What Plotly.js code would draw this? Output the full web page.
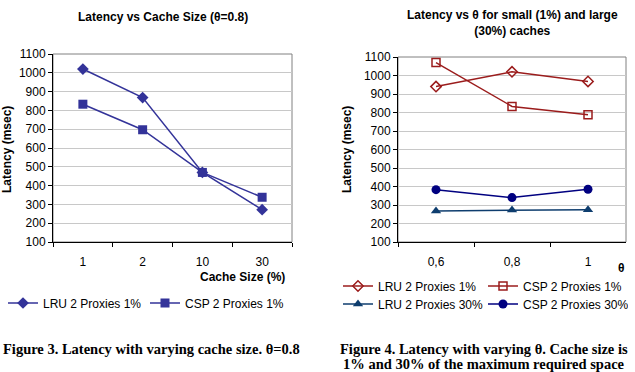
<!DOCTYPE html>
<html><head><meta charset="utf-8">
<script src="https://cdn.plot.ly/plotly-3.0.1.min.js"></script>
<style>html,body{margin:0;padding:0;background:#fff;}#chart{width:635px;height:372px;}</style>
</head><body><div id="chart"></div>
<script>
// Figure 3 data
const cacheSizes = ['1', '2', '10', '30'];
const lruCache1 = [1020, 868, 470, 272];
const cspCache1 = [833, 697, 470, 338];
// Figure 4 data
const thetas = ['0,6', '0,8', '1'];
const lru1 = [940, 1020, 968];
const csp1 = [1070, 833, 788];
const lru30 = [268, 273, 275];
const csp30 = [383, 340, 385];
const yTicks = [100,200,300,400,500,600,700,800,900,1000,1100];

const F = 'Liberation Sans, Arial, sans-serif';
const S = 'Liberation Serif, Times New Roman, serif';
const blue = '#333399', red = '#9b1c1c', teal = '#0e3d6e', navy = '#000080';

const traces = [
  {x: cacheSizes, y: lruCache1, name: 'LRU 2 Proxies 1%', xaxis:'x', yaxis:'y', legend:'legend',
   mode:'lines+markers', line:{color:blue,width:1.5}, marker:{symbol:'diamond',size:9,color:blue}},
  {x: cacheSizes, y: cspCache1, name: 'CSP 2 Proxies 1%', xaxis:'x', yaxis:'y', legend:'legend',
   mode:'lines+markers', line:{color:blue,width:1.5}, marker:{symbol:'square',size:9,color:blue}},
  {x: thetas, y: lru1, name: 'LRU 2 Proxies 1%', xaxis:'x2', yaxis:'y2', legend:'legend2',
   mode:'lines+markers', line:{color:red,width:1.5}, marker:{symbol:'diamond-open',size:8,color:red,line:{width:1.5}}},
  {x: thetas, y: csp1, name: 'CSP 2 Proxies 1%', xaxis:'x2', yaxis:'y2', legend:'legend2',
   mode:'lines+markers', line:{color:red,width:1.5}, marker:{symbol:'square-open',size:8,color:red,line:{width:1.5}}},
  {x: thetas, y: lru30, name: 'LRU 2 Proxies 30%', xaxis:'x2', yaxis:'y2', legend:'legend3',
   mode:'lines+markers', line:{color:teal,width:1.5}, marker:{symbol:'triangle-up',size:9,color:teal}},
  {x: thetas, y: csp30, name: 'CSP 2 Proxies 30%', xaxis:'x2', yaxis:'y2', legend:'legend3',
   mode:'lines+markers', line:{color:navy,width:1.5}, marker:{symbol:'circle',size:9,color:navy}}
];

const fA = {family:F,size:12,color:'#000'};
const fC = {family:S,size:14.5,color:'#000'};

const yax = (dom, anchor) => ({domain: dom, anchor: anchor, range:[100,1100], tickvals:yTicks,
  showgrid:true, gridcolor:'#c8c8c8', gridwidth:1, showline:true, linecolor:'#000', linewidth:1,
  ticks:'outside', ticklen:4, tickcolor:'#000', tickfont:fA, zeroline:false, fixedrange:true});
const xax = (dom, anchor, n) => ({domain: dom, anchor: anchor, type:'category', tickson:'boundaries',
  range:[-0.5, n - 0.5], autorange:false,
  showline:true, linecolor:'#000', linewidth:1, ticks:'outside', ticklen:4, tickcolor:'#000',
  ticklabelstandoff:9,
  showgrid:false, tickfont:fA, fixedrange:true});

const leg = (x, y, w) => ({x:x, y:y, xanchor:'left', yanchor:'middle', orientation:'h',
  font:fA, bgcolor:'rgba(0,0,0,0)', itemwidth:30, tracegroupgap:0,
  entrywidth:w, entrywidthmode:'pixels'});

const ann = (text, x, y, font, extra) => Object.assign({text:text, x:x/635, y:1-y/372, xref:'paper', yref:'paper',
  xanchor:'center', yanchor:'middle', showarrow:false, font:font}, extra || {});

const layout = {
  width:635, height:372, margin:{l:0,r:0,t:0,b:0,autoexpand:false}, paper_bgcolor:'#fff', plot_bgcolor:'#fff',
  showlegend:true,
  xaxis: xax([53/635, 292/635], 'y', cacheSizes.length),
  yaxis: yax([1-242/372, 1-54/372], 'x'),
  xaxis2: xax([398/635, 626/635], 'y2', thetas.length),
  yaxis2: yax([1-242/372, 1-57/372], 'x2'),
  legend: leg(3/635, 1-303/372, 97),
  legend2: leg(338/635, 1-286/372, 100),
  legend3: leg(338/635, 1-304/372, 100),
  shapes: [
    {type:'rect', xref:'x domain', yref:'y domain', x0:0, x1:1, y0:0, y1:1, line:{color:'#808080',width:1}, layer:'below'},
    {type:'rect', xref:'x2 domain', yref:'y2 domain', x0:0, x1:1, y0:0, y1:1, line:{color:'#808080',width:1}, layer:'below'}
  ],
  annotations: [
    ann('<b>Latency vs Cache Size (θ=0.8)</b>', 163, 17, fA),
    ann('<b>Latency vs θ for small (1%) and large<br>(30%) caches</b>', 512, 23, fA),
    ann('<b>Latency (msec)</b>', 7, 150, fA, {textangle:-90}),
    ann('<b>Latency (msec)</b>', 347, 150, fA, {textangle:-90}),
    ann('<b>Cache Size (%)</b>', 287, 277, fA, {xanchor:'right'}),
    ann('<b>θ</b>', 621, 268, fA),
    ann('<b>Figure 3. Latency with varying cache size. θ=0.8</b>', 151, 349, fC),
    ann('<b>Figure 4. Latency with varying θ. Cache size is</b>', 484, 349, fC),
    ann('<b>1% and 30% of the maximum required space</b>', 484, 364, fC)
  ]
};
Plotly.newPlot('chart', traces, layout, {displayModeBar:false, staticPlot:true});
</script></body></html>
